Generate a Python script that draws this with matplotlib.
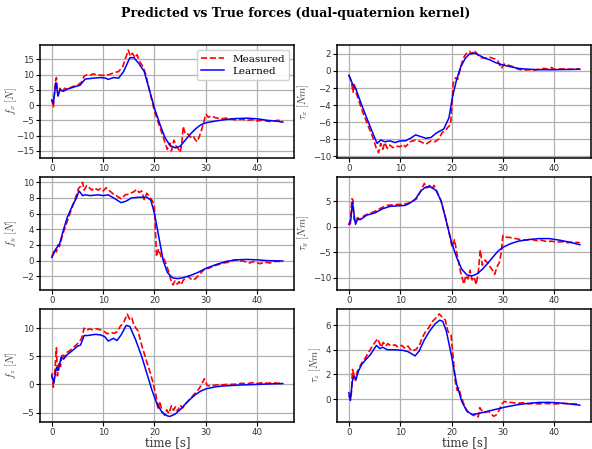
import numpy as np
import matplotlib
matplotlib.use("Agg")
import matplotlib.pyplot as plt

plt.rcParams['font.family'] = 'DejaVu Serif'
plt.rcParams['mathtext.fontset'] = 'cm'

# (time, value) samples
fx_meas = [(0, 2), (0.3, -0.8), (0.7, 8), (0.9, 9), (1.2, 3), (1.6, 5.5), (2, 4.2), (2.5, 5.5), (3, 5.2),
           (4, 6), (5, 6.5), (5.8, 7.5), (6.3, 9.5), (7, 10), (7.5, 9.8), (8, 10.2), (9, 9.9), (10, 9.7),
           (11, 9.9), (12, 10.5), (13, 11), (13.8, 12.5), (14.5, 16), (14.9, 18), (15.3, 16), (15.7, 17),
           (16.2, 15.5), (16.6, 16.5), (17.2, 14), (17.8, 12.5), (18.3, 10), (19, 5), (19.7, 0), (20, -2),
           (20.8, -6), (21.8, -11), (22.5, -14.5), (23, -12.5), (23.3, -15), (23.8, -11.5), (24.2, -13.5),
           (24.7, -14.5), (25, -15.5), (25.3, -13), (25.6, -7), (26, -9.5), (26.5, -9.5), (27, -10.5),
           (27.5, -10), (28, -11.5), (28.3, -12), (28.7, -10.5), (29.2, -8), (29.6, -5.5), (30, -3),
           (30.5, -4), (31, -3.6), (32, -4.2), (33, -4.5), (34, -4.3), (35, -4.6), (36, -4.9), (37, -4.6),
           (38, -5), (39, -4.8), (40, -5.2), (41, -4.9), (42, -5.3), (43, -5.4), (44, -5.0), (45, -5.1)]
fx_learn = [(0, 1.5), (0.3, 0.5), (0.8, 7.5), (1.2, 3), (1.6, 5), (2.2, 4.5), (3, 5.2), (4.5, 6), (5.5, 6.5),
            (6.5, 8.5), (8, 8.8), (9.5, 9), (10.5, 8.8), (11, 8.4), (12, 9), (13, 8.8), (14, 11), (15.2, 15.5),
            (16, 15.5), (17, 13.5), (18, 11), (19, 5), (20, -1), (21, -6), (22, -10.5), (23, -13.2), (24, -14),
            (25, -13.5), (26, -11.5), (27, -9.5), (28, -7.8), (29, -6.5), (30, -5.8), (32, -5.2), (34, -4.7),
            (36, -4.4), (38, -4.3), (40, -4.5), (42, -5), (44, -5.3), (45, -5.6)]

tx_meas = [(0, -0.5), (0.5, -1.2), (0.8, -2.5), (1, -1.5), (1.4, -2.5), (2.5, -4.5), (3.8, -6.5), (4.8, -8),
           (5.3, -9), (5.8, -9.6), (6.2, -8.5), (6.6, -9.2), (7, -8.4), (7.5, -9.1), (8, -8.7), (8.6, -9),
           (9.2, -8.8), (10, -8.9), (10.6, -8.6), (11, -8.9), (12, -8.3), (13, -8.1), (14, -8.3), (15, -8.6),
           (16, -8.2), (16.8, -8.3), (17.5, -8), (18.2, -7.2), (18.8, -7), (19.3, -6.6), (19.8, -6.3),
           (20.1, -4), (20.3, -1.5), (20.8, -0.8), (21.2, -1.0), (21.8, 0.5), (22.3, 1.5), (22.8, 2),
           (23.5, 2.3), (24, 2.0), (24.4, 2.4), (25, 2.0), (25.5, 1.6), (26.5, 1.5), (27.5, 1.6), (28.5, 1.4),
           (29, 1.2), (29.7, 0.3), (30.2, 0.8), (31, 0.7), (32, 0.5), (33, 0.2), (34, 0.1), (35, 0.15),
           (36, 0.1), (37, 0.2), (38, 0.3), (39, 0.2), (39.5, 0.4), (40, 0.2), (42, 0.25), (43, 0.2), (45, 0.25)]
tx_learn = [(0, -0.5), (0.7, -1.5), (1.3, -2), (2.5, -4), (3.8, -6), (4.8, -7.5), (5.5, -8.5), (6.2, -8.1),
            (7, -8.3), (8, -8.2), (9, -8.4), (10, -8.2), (11, -8.2), (12, -7.9), (13, -7.5), (14, -7.7),
            (15, -7.9), (16, -7.8), (17, -7.3), (18.5, -6.8), (19.5, -5.5), (20.2, -3), (21, -1), (21.8, 0.5),
            (22.7, 1.5), (23.5, 2), (24.5, 2.1), (25.5, 1.8), (26.5, 1.5), (27.5, 1.3), (28.5, 1.0), (30, 0.7),
            (31.5, 0.5), (33, 0.3), (35, 0.2), (37, 0.15), (40, 0.15), (45, 0.2)]

fy_meas = [(0, 0.5), (0.3, 1), (0.6, 1.5), (0.9, 1.1), (1.2, 2), (1.5, 1.8), (2.2, 3.5), (3, 5), (3.8, 6.5),
           (4.6, 8), (5.2, 9.2), (5.6, 9.5), (6, 10), (6.3, 9), (6.8, 9.6), (7.3, 9.3), (7.8, 9.0), (8.3, 9.3),
           (9, 9.0), (9.5, 9.2), (10, 8.9), (10.6, 9.3), (11.1, 9.0), (12, 8.5), (12.8, 8.2), (13.5, 7.9),
           (14.3, 8.4), (15, 8.5), (16, 8.8), (16.5, 9.1), (17, 8.7), (17.5, 8.9), (18, 7.8), (18.5, 8.6),
           (19, 8.2), (19.7, 7.5), (20, 6.8), (20.4, 0.5), (20.8, 1.5), (21.3, 0.5), (21.8, 0.3), (22.3, -0.5),
           (22.8, -1.5), (23.2, -2.5), (23.6, -3.1), (24, -2.6), (24.4, -3), (24.8, -2.7), (25.2, -3.1),
           (25.6, -2.5), (26, -2.3), (26.5, -2.0), (27, -2.3), (27.5, -2.5), (28, -2.3), (28.7, -1.8),
           (29.3, -1.4), (30, -0.9), (30.5, -1.0), (31.5, -0.7), (32.5, -0.5), (33.5, -0.3), (34.5, -0.2),
           (35.5, 0.1), (36.5, 0.0), (37.5, -0.1), (38.5, -0.3), (39.5, -0.1), (40.5, -0.4), (41.5, -0.2),
           (42.5, -0.3), (43.5, -0.1), (45, -0.1)]
fy_learn = [(0, 0.4), (0.8, 1.5), (1.5, 2.1), (2.3, 4), (3, 5.5), (4, 7), (4.8, 8), (5.3, 8.9), (6, 8.3),
            (6.5, 8.4), (7.5, 8.3), (9, 8.4), (10, 8.3), (11, 8.4), (12.3, 7.9), (13.5, 7.4), (14.5, 7.6),
            (15.5, 8), (17, 8.1), (18.5, 8.1), (19.3, 7.7), (20, 6), (21, 2.5), (21.7, 0), (22.5, -1.5),
            (23.5, -2.2), (24.5, -2.3), (25.5, -2.2), (27, -1.9), (28.5, -1.5), (30, -1), (32, -0.5),
            (34, -0.1), (36, 0.1), (38, 0.15), (40, 0.1), (42, 0), (45, -0.05)]

ty_meas = [(0, 0.4), (0.3, 0.6), (0.6, 5.5), (0.8, 5.2), (1.0, 1.5), (1.3, 1.0), (1.7, 1.8), (2.1, 1.5),
           (3, 2.2), (4, 2.6), (5, 3), (6.5, 3.8), (7.5, 4.2), (8.5, 4.3), (9.5, 4.4), (10.5, 4.4),
           (11.5, 4.6), (12.5, 5), (13.2, 5.5), (14, 7), (14.7, 8.5), (15.2, 7.6), (15.7, 8.1), (16.2, 7.4),
           (16.6, 8.1), (17.2, 6.8), (17.8, 5.5), (18.8, 2), (19.5, -1), (20.1, -4), (20.6, -2.5), (21, -5),
           (21.8, -9), (22.4, -11.2), (22.8, -9.5), (23.2, -10.2), (23.6, -8.5), (24.0, -10.4), (24.4, -9.8),
           (24.8, -11.3), (25.2, -9), (25.6, -4.5), (26, -7.5), (26.5, -6.5), (27, -7), (27.5, -7.8),
           (28, -8.5), (28.4, -9.3), (28.8, -8), (29.3, -7), (29.7, -5), (30, -1.7), (30.5, -2.0), (31.5, -2.1),
           (32.5, -2.3), (33.5, -2.5), (34.5, -2.6), (35.5, -2.4), (36.5, -2.7), (37.5, -2.6), (38.5, -2.9),
           (39.5, -2.8), (40.5, -3.0), (41.5, -2.9), (42.5, -3.1), (43.5, -3.0), (45, -3.1)]
ty_learn = [(0, 0.5), (0.4, 1.5), (0.7, 4.8), (1.0, 2.5), (1.3, 0.5), (1.7, 1.5), (2.2, 1.4), (2.8, 1.8),
            (3.5, 2.3), (5, 2.7), (6.5, 3.5), (8, 4.0), (9.5, 4.1), (11, 4.2), (12, 4.7), (13, 5.5), (14, 7),
            (15, 7.8), (16, 7.8), (17, 7.1), (18, 5), (19, 1), (20, -3), (21, -6), (22, -8.3), (23, -9.4),
            (24, -9.6), (25, -9.2), (26, -8.3), (27, -7.2), (28, -6), (29, -4.8), (30, -4), (31.5, -3.3),
            (33, -2.8), (35, -2.5), (37, -2.3), (39, -2.3), (41, -2.6), (43, -3), (45, -3.5)]

fz_meas = [(0, 2), (0.3, -0.5), (0.6, 2.5), (0.9, 6.5), (1.1, 1.5), (1.4, 4), (1.7, 3.2), (2.0, 5.5),
           (2.4, 4.8), (2.8, 5.6), (3.5, 6), (4.5, 6.8), (5.3, 7.5), (5.8, 8.2), (6.3, 10), (6.8, 9.6),
           (7.3, 9.9), (8, 9.7), (8.7, 9.9), (9.5, 9.7), (10.2, 9.4), (10.8, 9.0), (11.5, 9.2), (12.2, 9.1),
           (12.8, 9.4), (13.3, 10.3), (14, 11), (14.7, 12.5), (15.2, 11.5), (15.6, 11.8), (16, 10.5),
           (16.8, 9.5), (17.5, 7), (18.5, 4), (19.2, 2), (19.8, 0), (20.3, -2), (20.7, -4.5), (21, -3),
           (21.5, -4.8), (22, -5.5), (22.4, -4.5), (22.8, -5.2), (23.3, -3.8), (23.7, -4.6), (24.1, -4.0),
           (24.5, -4.8), (25, -3.7), (25.5, -4.2), (26, -3.5), (26.5, -3.0), (27.3, -2.2), (28, -1.5),
           (28.5, -1.0), (29.2, 0.0), (29.7, 1.0), (30.3, -0.2), (31, -0.3), (32, -0.1), (33, -0.1), (34, 0),
           (35, 0), (36, 0.05), (37, 0.2), (38, 0.1), (39, 0.3), (40, 0.15), (41, 0.3), (42, 0.2), (43, 0.3),
           (44, 0.2), (45, 0.2)]
fz_learn = [(0, 1.5), (0.4, 0.3), (0.9, 3), (1.3, 2.5), (1.8, 4.8), (2.3, 4.5), (3, 5.3), (4, 6), (5, 6.8),
            (5.6, 7), (6.3, 8.7), (7, 8.7), (8.5, 8.9), (9.5, 8.8), (10.3, 8.5), (11, 7.7), (12, 8.2),
            (12.7, 7.8), (13.5, 8.8), (14.5, 10.5), (15.2, 10.3), (16.3, 8), (17.5, 5), (18.5, 2), (19.5, -1),
            (20.5, -3.5), (21.5, -5), (22.5, -5.6), (23, -5.7), (24, -5.3), (25, -4.5), (26, -3.5), (27, -2.6),
            (28, -1.8), (29, -1.2), (30, -0.8), (31.5, -0.5), (33, -0.3), (35, -0.2), (37, -0.1), (40, 0),
            (43, 0.1), (45, 0.15)]

tz_meas = [(0, 0.3), (0.3, -0.1), (0.5, 0.5), (0.7, 2.4), (1.0, 2.0), (1.3, 1.5), (1.6, 2.2), (2.1, 2.6),
           (2.6, 3.0), (3.3, 3.4), (4.0, 3.9), (4.6, 4.3), (5.1, 4.6), (5.6, 4.9), (6.0, 4.5), (6.3, 4.2),
           (6.7, 4.6), (7.2, 4.3), (7.6, 4.5), (8.2, 4.3), (9, 4.4), (9.6, 4.2), (10.3, 4.35), (11, 4.1),
           (11.5, 4.3), (12.2, 3.9), (13, 4.0), (13.7, 4.3), (14.3, 5.0), (15, 5.5), (15.6, 5.8), (16.3, 6.3),
           (17, 6.6), (17.6, 6.9), (18.3, 6.6), (18.8, 6.4), (19.3, 5.5), (19.9, 5.2), (20.3, 3.5), (20.7, 1.5),
           (21.1, 0.7), (21.4, 0.9), (21.8, 0.3), (22.3, -0.3), (22.8, -0.8), (23.3, -1.1), (23.8, -1.2),
           (24.3, -1.35), (24.8, -1.2), (25.2, -1.45), (25.5, -0.7), (26, -1.0), (26.5, -1.1), (27.2, -1.0),
           (27.7, -1.2), (28.2, -1.4), (28.7, -1.3), (29.3, -0.9), (29.8, -0.4), (30.3, -0.2), (31, -0.25),
           (32, -0.3), (33, -0.35), (34, -0.3), (35, -0.4), (36, -0.35), (37, -0.4), (38, -0.35), (40, -0.4),
           (42, -0.35), (43, -0.4), (45, -0.4)]
tz_learn = [(0, 0.5), (0.3, -0.1), (0.7, 1.5), (1.0, 1.9), (1.4, 1.6), (1.9, 2.3), (2.5, 2.8), (3.3, 3.2),
            (4.2, 3.6), (4.8, 4.0), (5.4, 4.35), (6, 4.1), (6.6, 4.2), (7.5, 4.0), (9, 4.0), (10.5, 3.95),
            (11.5, 3.85), (12.5, 3.6), (12.9, 3.5), (13.7, 3.9), (14.7, 4.8), (15.7, 5.5), (16.8, 6.1),
            (17.7, 6.4), (18.3, 6.3), (19, 5.5), (20, 3.5), (21, 1.2), (22, -0.2), (23, -1.0), (24, -1.25),
            (25, -1.2), (26.5, -1.05), (28.5, -0.85), (30.5, -0.65), (33, -0.45), (35, -0.35), (37, -0.28),
            (39, -0.27), (41, -0.32), (43, -0.4), (45, -0.5)]

ylabels = [r'$f_x\ [N]$', r'$\tau_x\ [Nm]$', r'$f_y\ [N]$', r'$\tau_y\ [Nm]$', r'$f_z\ [N]$', r'$\tau_z\ [Nm]$']
meas_all = [fx_meas, tx_meas, fy_meas, ty_meas, fz_meas, tz_meas]
learn_all = [fx_learn, tx_learn, fy_learn, ty_learn, fz_learn, tz_learn]
ylims = [(-17.3, 19.7), (-10.2, 3.06), (-3.75, 10.68), (-12.35, 9.75), (-6.7, 13.4), (-1.87, 7.3)]
yticks = [[-15, -10, -5, 0, 5, 10, 15], [-10, -8, -6, -4, -2, 0, 2], [-2, 0, 2, 4, 6, 8, 10],
          [-10, -5, 0, 5], [-5, 0, 5, 10], [0, 2, 4, 6]]

fig, axes = plt.subplots(3, 2, figsize=(5.92, 4.49), dpi=100)
fig.subplots_adjust(left=0.068, right=0.999, top=0.9, bottom=0.06, wspace=0.169, hspace=0.169)
fig.suptitle('Predicted vs True forces (dual-quaternion kernel)', fontsize=9, fontweight='bold', y=0.985)

for i, ax in enumerate(axes.flat):
    tm, ym = np.array(meas_all[i]).T
    tl, yl = np.array(learn_all[i]).T
    ax.plot(tm, ym, 'r--', lw=1.2, label='Measured')
    ax.plot(tl, yl, 'b-', lw=1.1, label='Learned')
    ax.set_xlim(-2.25, 47.25)
    ax.set_ylim(*ylims[i])
    ax.set_xticks([0, 10, 20, 30, 40])
    ax.set_yticks(yticks[i])
    ax.grid(True, color='#b0b0b0', lw=0.9)
    ax.set_axisbelow(True)
    for sp in ax.spines.values():
        sp.set_linewidth(1.1)
    ax.tick_params(labelsize=6.2, labelcolor='#333333', length=3, width=0.8, pad=1.5,
                   labelfontfamily='DejaVu Sans')
    ax.set_ylabel(ylabels[i], fontsize=7.5, color='#444444', labelpad=1.5)
    if i >= 4:
        ax.set_xlabel('time [s]', fontsize=8.5, color='#333333', labelpad=-1)

# the widest tick labels push this one against the edge; pin it as in the reference
axes[0, 0].yaxis.set_label_coords(-0.085, 0.5)

axes[0, 0].legend(loc='upper right', fontsize=7.5, handlelength=2.2, borderpad=0.4, labelspacing=0.3,
                  framealpha=0.9, fancybox=True)

fig.savefig('out.png', dpi=100)
